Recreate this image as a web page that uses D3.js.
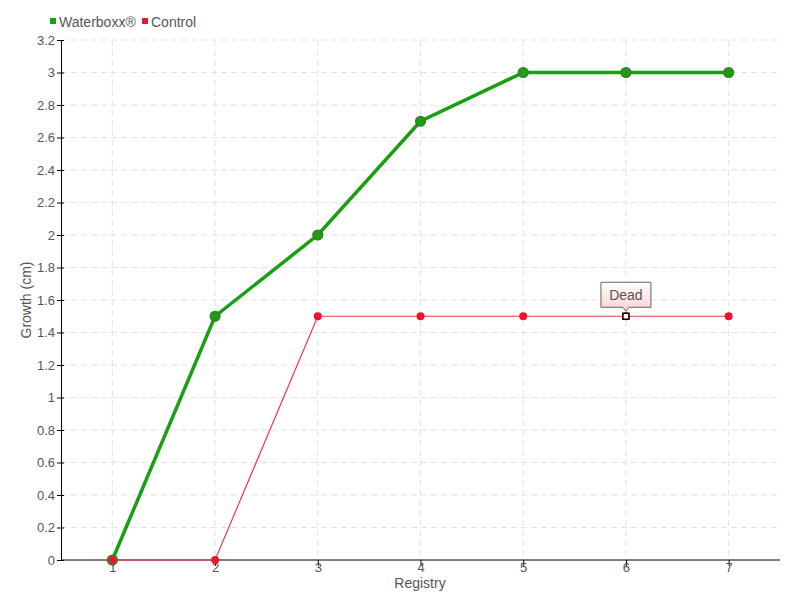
<!DOCTYPE html>
<html>
<head>
<meta charset="utf-8">
<script src="https://cdn.jsdelivr.net/npm/d3@7"></script>
<style>
  body { margin: 0; background: #fff; }
  text { font-family: "Liberation Sans", Arial, sans-serif; fill: #555; }
</style>
</head>
<body>
<svg id="chart" width="800" height="600"></svg>
<script>
const registry = [1, 2, 3, 4, 5, 6, 7];
const waterboxx = [0, 1.5, 2, 2.7, 3, 3, 3];
const control = [0, 0, 1.5, 1.5, 1.5, 1.5, 1.5];
const yTicks = d3.range(0, 3.21, 0.2).map(v => +v.toFixed(1));
const note = { index: 5, text: "Dead" };

const svg = d3.select("#chart"),
      plotLeft = 61, plotRight = 780, plotTop = 40, plotBottom = 560;

const x = d3.scalePoint().domain(registry).range([plotLeft, plotRight]).padding(0.5);
const y = d3.scaleLinear().domain([0, 3.2]).range([plotBottom, plotTop]);

// grid
svg.append("g").selectAll("line").data(yTicks.slice(1)).enter().append("line")
  .attr("x1", plotLeft).attr("x2", plotRight)
  .attr("y1", d => y(d)).attr("y2", d => y(d))
  .attr("stroke", "#e3e3e3").attr("stroke-dasharray", "6,4");
svg.append("g").selectAll("line").data(registry).enter().append("line")
  .attr("x1", d => x(d)).attr("x2", d => x(d))
  .attr("y1", plotTop).attr("y2", plotBottom)
  .attr("stroke", "#e3e3e3").attr("stroke-dasharray", "6,4");

const yAxis = d3.axisLeft(y).tickValues(yTicks).tickSize(4).tickPadding(3)
  .tickFormat(d => d3.format("")(d));
const gy = svg.append("g").attr("transform", `translate(${plotLeft},0)`).call(yAxis);
gy.select(".domain").attr("stroke", "#000");
gy.selectAll(".tick line").attr("stroke", "#000").attr("x2", 3).attr("x1", -4);
gy.selectAll("text").style("font-size", "13px").attr("fill", "#555").attr("x", -6);

const xAxis = d3.axisBottom(x).tickSize(6).tickPadding(0);
const gx = svg.append("g").attr("transform", `translate(0,${plotBottom})`).call(xAxis);
gx.select(".domain").attr("d", `M${plotLeft},0H${plotRight}`).attr("stroke", "#000");
gx.selectAll(".tick line").attr("stroke", "#000");
gx.selectAll("text").style("font-size", "13px").attr("fill", "#555").attr("y", 12).attr("dy", 0);

svg.append("text").attr("x", 420).attr("y", 588).attr("text-anchor", "middle")
  .style("font-size", "14px").text("Registry");
svg.append("text").attr("transform", "translate(31,300) rotate(-90)").attr("text-anchor", "middle")
  .style("font-size", "14px").text("Growth (cm)");

const line = d3.line().x((d, i) => x(registry[i])).y(d => y(d));

svg.append("path").datum(waterboxx).attr("d", line)
  .attr("fill", "none").attr("stroke", "#1a9e12").attr("stroke-width", 3.5);
svg.append("path").datum(control).attr("d", line)
  .attr("fill", "none").attr("stroke", "#f0374e").attr("stroke-width", 1.2);

svg.append("g").selectAll("circle").data(waterboxx).enter().append("circle")
  .attr("cx", (d, i) => x(registry[i])).attr("cy", d => y(d)).attr("r", 5)
  .attr("fill", "#1e9c16").attr("stroke", "#3a7a2e").attr("stroke-width", 1.2);
svg.append("g").selectAll("circle").data(control).enter().append("circle")
  .attr("cx", (d, i) => x(registry[i])).attr("cy", d => y(d)).attr("r", 4)
  .attr("fill", "#e8162e");

// note
const nx = x(registry[note.index]), ny = y(control[note.index]);
svg.append("rect").attr("x", nx - 3).attr("y", ny - 3).attr("width", 6).attr("height", 6)
  .attr("fill", "#fff").attr("stroke", "#000").attr("stroke-width", 1.5);
const defs = svg.append("defs");
const grad = defs.append("linearGradient").attr("id", "tip").attr("x1", 0).attr("y1", 0).attr("x2", 0).attr("y2", 1);
grad.append("stop").attr("offset", "0%").attr("stop-color", "#fff");
grad.append("stop").attr("offset", "100%").attr("stop-color", "#fdd0d0");
const bw = 50, bh = 25, bt = ny - 34;
svg.append("path")
  .attr("d", `M${nx - bw / 2},${bt}H${nx + bw / 2}V${bt + bh}H${nx + 3}L${nx},${ny - 5}L${nx - 3},${bt + bh}H${nx - bw / 2}Z`)
  .attr("fill", "url(#tip)").attr("stroke", "#666").attr("stroke-width", 1);
svg.append("text").attr("x", nx).attr("y", bt + 18).attr("text-anchor", "middle")
  .style("font-size", "14px").text(note.text);

// legend
const legend = [{ name: "Waterboxx®", color: "#1a9e12", x: 50 }, { name: "Control", color: "#e8162e", x: 142 }];
const lg = svg.append("g").selectAll("g").data(legend).enter().append("g")
  .attr("transform", d => `translate(${d.x},22)`);
lg.append("rect").attr("x", 0).attr("y", -4).attr("width", 6).attr("height", 6).attr("fill", d => d.color);
lg.append("text").attr("x", 9).attr("y", 5).style("font-size", "14px").text(d => d.name);
</script>
</body>
</html>
